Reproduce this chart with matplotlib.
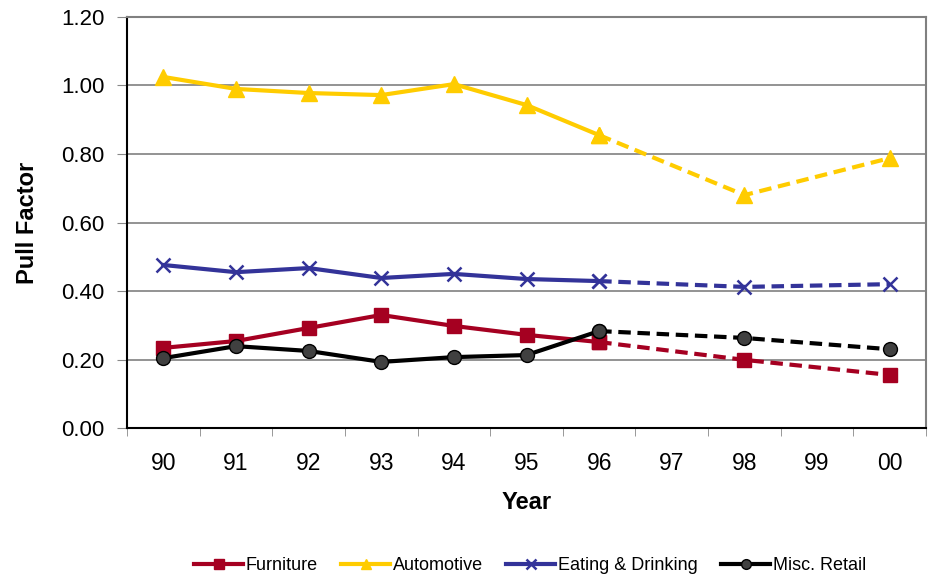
import numpy as np
import matplotlib.pyplot as plt
from matplotlib.lines import Line2D

plt.rcParams["font.family"] = ["Liberation Sans", "DejaVu Sans"]

years = ["90", "91", "92", "93", "94", "95", "96", "97", "98", "99", "00"]
# nan = no data for that year
furniture = [0.234, 0.254, 0.292, 0.330, 0.298, 0.272, 0.251, np.nan, 0.199, np.nan, 0.155]
automotive = [1.025, 0.990, 0.978, 0.972, 1.004, 0.943, 0.855, np.nan, 0.680, np.nan, 0.788]
eating = [0.476, 0.455, 0.467, 0.438, 0.450, 0.435, 0.429, np.nan, 0.412, np.nan, 0.420]
misc = [0.204, 0.239, 0.225, 0.193, 0.207, 0.213, 0.283, np.nan, 0.263, np.nan, 0.230]

series = [
    ("Furniture", furniture, "#A50021", dict(marker="s", markersize=10, markerfacecolor="#A50021", markeredgecolor="#A50021")),
    ("Automotive", automotive, "#FFCC00", dict(marker="^", markersize=11, markerfacecolor="#FFCC00", markeredgecolor="#FFCC00")),
    ("Eating & Drinking", eating, "#333399", dict(marker="x", markersize=10, markeredgewidth=1.8, markeredgecolor="#333399")),
    ("Misc. Retail", misc, "#000000", dict(marker="o", markersize=10, markerfacecolor="#404040", markeredgecolor="#000000", markeredgewidth=1.0)),
]

last_solid = years.index("96")

fig = plt.figure(figsize=(9.3, 5.76), dpi=100)
ax = fig.add_axes([0.1366, 0.2569, 0.8591, 0.7136])

x = np.arange(len(years))
handles = []
for label, vals, color, mk in series:
    vals = np.array(vals)
    ax.plot(x[:last_solid + 1], vals[:last_solid + 1], color=color, lw=3, zorder=3, **mk)
    mask = ~np.isnan(vals)
    mask[:last_solid] = False
    ax.plot(x[mask], vals[mask], color=color, lw=3, ls=(0, (3, 1.6)), zorder=3, **mk)
    handles.append(Line2D([], [], color=color, lw=3, label=label,
                          **{k: (v * 0.7 if k == "markersize" else v) for k, v in mk.items()}))

ax.set_xlim(-0.5, len(years) - 0.5)
ax.set_ylim(0, 1.2)
ax.set_yticks(np.arange(0, 1.21, 0.2))
ax.set_yticklabels([f"{v:.2f}" for v in np.arange(0, 1.21, 0.2)])
ax.set_xticks(x)
ax.set_xticklabels(years)
ax.set_xticks(np.arange(-0.5, len(years), 1), minor=True)
ax.tick_params(axis="x", which="major", length=0, labelsize=16.5, pad=17)
ax.tick_params(axis="x", which="minor", length=6, color="#888888", direction="out")
ax.tick_params(axis="y", length=7, labelsize=16, direction="out", color="#888888", pad=9)

ax.grid(axis="y", color="#808080", lw=1.2)
ax.set_axisbelow(True)
ax.spines["left"].set_color("black")
ax.spines["bottom"].set_color("black")
ax.spines["left"].set_linewidth(1.5)
ax.spines["bottom"].set_linewidth(1.5)
ax.spines["top"].set_color("#808080")
ax.spines["right"].set_color("#808080")
ax.spines["top"].set_linewidth(1.5)
ax.spines["right"].set_linewidth(1.5)

ax.set_xlabel("Year", fontsize=17, fontweight="bold", labelpad=12)
ax.set_ylabel("Pull Factor", fontsize=17, fontweight="bold", labelpad=16)

fig.legend(handles=handles, loc="center", bbox_to_anchor=(0.57, 0.018), ncol=4,
           frameon=False, fontsize=13, handlelength=2.7, handletextpad=0.15, columnspacing=1.3)

plt.savefig("out.png", dpi=100)
